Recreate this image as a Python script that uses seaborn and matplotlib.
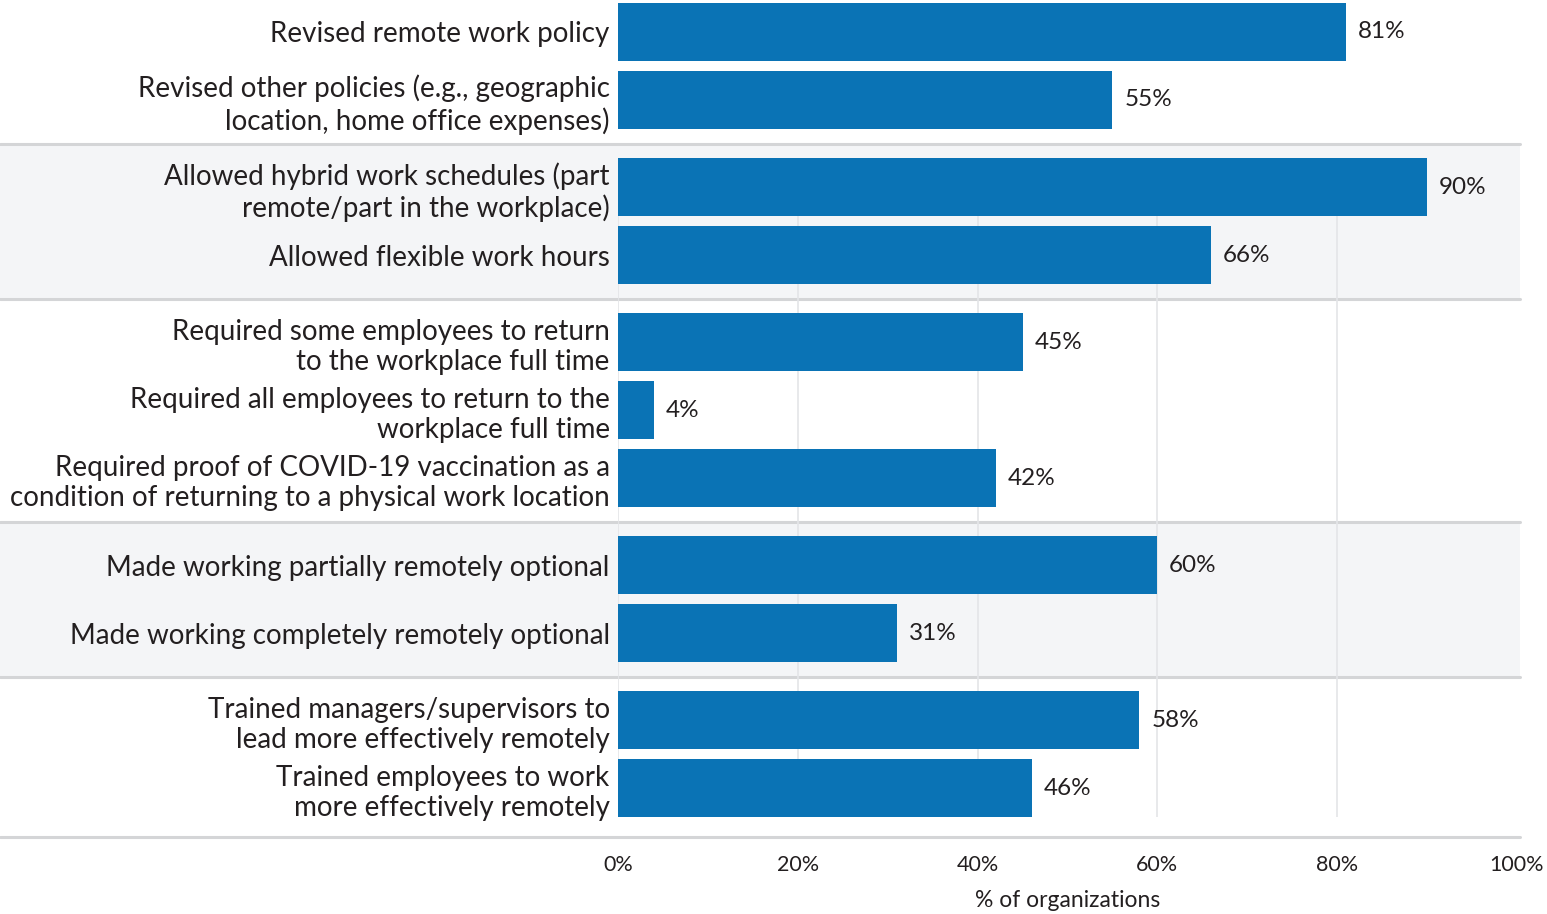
import matplotlib
matplotlib.use("Agg")
import matplotlib.pyplot as plt
import matplotlib.transforms as mtransforms
from matplotlib.patches import Rectangle
from matplotlib.lines import Line2D
import numpy as np
import pandas as pd
import seaborn as sns

# ---- data -------------------------------------------------------------
actions = [
    "Revised remote work policy",
    "Revised other policies (e.g., geographic\nlocation, home office expenses)",
    "Allowed hybrid work schedules (part\nremote/part in the workplace)",
    "Allowed flexible work hours",
    "Required some employees to return\nto the workplace full time",
    "Required all employees to return to the\nworkplace full time",
    "Required proof of COVID-19 vaccination as a\ncondition of returning to a physical work location",
    "Made working partially remotely optional",
    "Made working completely remotely optional",
    "Trained managers/supervisors to\nlead more effectively remotely",
    "Trained employees to work\nmore effectively remotely",
]
percent = [81, 55, 90, 66, 45, 4, 42, 60, 31, 58, 46]
group = [0, 0, 1, 1, 2, 2, 2, 3, 3, 4, 4]
x_ticks = [0, 20, 40, 60, 80, 100]
x_tick_labels = ["0%", "20%", "40%", "60%", "80%", "100%"]
x_title = "% of organizations"

# ---- layout helpers -----------------------------------------------------
GROUP_GAP = 0.28
ypos = np.arange(len(percent)) + GROUP_GAP * np.array(group)

df = pd.DataFrame({"action": actions, "pct": percent, "y": ypos, "group": group})

BLUE = "#0a73b5"
BAND = "#f4f5f7"
RULE = "#d4d5d7"
GRID = "#e4e5e8"
INK = "#231f20"

sns.set_theme(style="white")
plt.rcParams["font.family"] = ["Lato", "DejaVu Sans"]

W, H = 1547, 914
fig = plt.figure(figsize=(W / 100, H / 100), dpi=100)
ax = fig.add_axes([618 / W, 1 - 838 / H, (1517 - 618) / W, 838 / H])
ax.set_facecolor("none")

sns.barplot(data=df, x="pct", y="y", orient="h", native_scale=True,
            color=BLUE, saturation=1, width=0.85, ax=ax, zorder=3,
            edgecolor="none", linewidth=0)

ax.set_xlim(0, 100)
ax.set_ylim(ypos[-1] + 0.73, -0.47)

# group bands and separating rules span the full figure width
trans = mtransforms.blended_transform_factory(fig.transFigure, ax.transData)
x_right = 1520 / W
bounds = []
for g in sorted(set(group))[:-1]:
    last = ypos[np.array(group) == g].max()
    nxt = ypos[np.array(group) == g + 1].min()
    bounds.append((last + nxt) / 2)
bottom_rule = ypos[-1] + 0.73

edges = [None] + bounds + [bottom_rule]
for g in sorted(set(group)):
    if g % 2 == 1:
        top, bot = edges[g], edges[g + 1]
        ax.add_patch(Rectangle((0, top), x_right, bot - top, transform=trans,
                               facecolor=BAND, edgecolor="none",
                               clip_on=False, zorder=0))
for b in bounds + [bottom_rule - 0.02]:
    ax.add_line(Line2D([0, x_right], [b, b], transform=trans, color=RULE,
                       lw=2.2, clip_on=False, zorder=1))

# vertical guides
grid_top = ypos[2] - 0.425
grid_bot = ypos[-1] + 0.425
ax.vlines(x_ticks[:-1], grid_top, grid_bot, colors=GRID, lw=1.2, zorder=1)

# value labels
ax.bar_label(ax.containers[0], labels=[f"{v}%" for v in percent],
             padding=8.5, fontsize=17.5, color=INK)

ax.set_yticks(ypos)
ax.set_yticklabels(actions, fontsize=20, color=INK, linespacing=1.2)
ax.set_xticks(x_ticks)
ax.set_xticklabels(x_tick_labels, fontsize=15.5, color=INK)
ax.tick_params(axis="y", length=0, pad=6)
ax.tick_params(axis="x", length=0, pad=12)
ax.set_xlabel(x_title, fontsize=16.5, color=INK, labelpad=11)
ax.set_ylabel("")
for s in ax.spines.values():
    s.set_visible(False)
ax.grid(False)

fig.savefig("out.png", dpi=100, facecolor="white")
